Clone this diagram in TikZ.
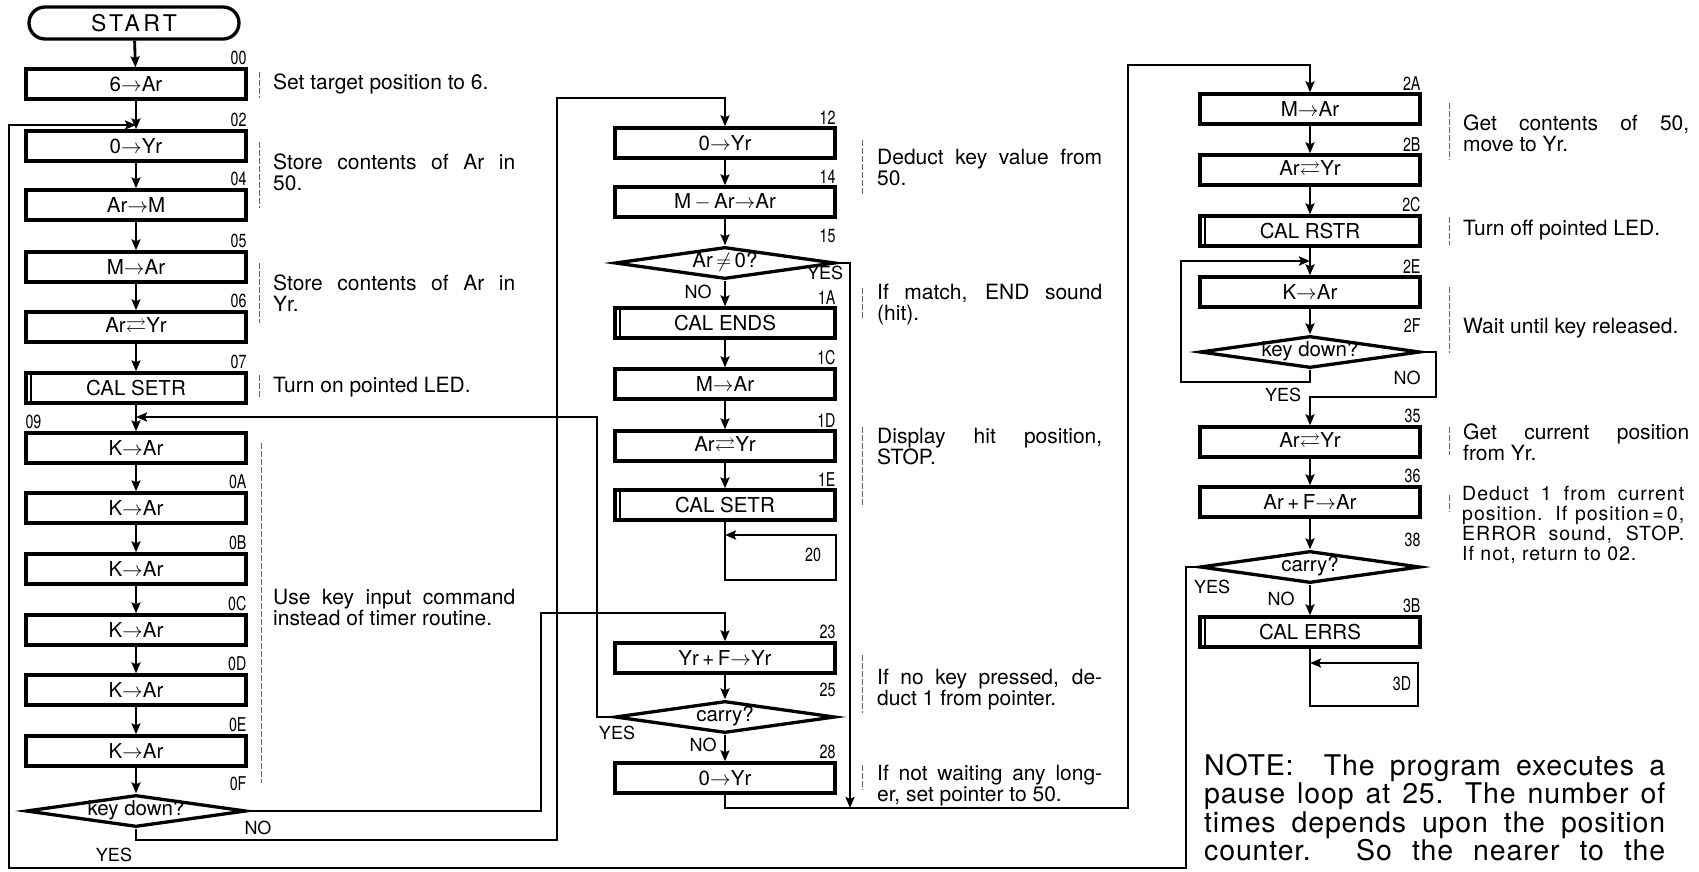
\documentclass[tikz,border=0pt]{standalone}
\usepackage{fontspec}
\usepackage{amssymb}
\setmainfont{TeX Gyre Heros}
\newfontfamily\addrfont{TeX Gyre Heros}[FakeStretch=0.75]
\usetikzlibrary{arrows.meta,shapes.geometric}

\begin{document}
\begin{tikzpicture}[x=1pt, y=-1pt,
    box/.style={draw, line width=3.3pt, minimum width=220pt, minimum height=30pt,
                inner sep=0pt, font=\fontsize{20.5}{20.5}\selectfont},
    cond/.style={draw, diamond, line width=3.3pt, aspect=6.9, minimum width=220pt,
                 minimum height=32pt, inner sep=0pt, text height=12pt, text depth=3pt,
                 font=\fontsize{20.5}{20.5}\selectfont},
    term/.style={draw, line width=3.3pt, rounded corners=16pt, minimum width=210pt,
                 minimum height=32pt, font=\fontsize{23}{23}\selectfont\addfontfeature{LetterSpace=15}},
    arr/.style={-{Stealth[length=11pt, width=9pt, inset=2pt]}, line width=2.8pt},
    addr/.style={inner sep=1pt, font=\addrfont\fontsize{19}{19}\selectfont},
    yn/.style={inner sep=0pt, font=\fontsize{18}{18}\selectfont},
    cmt/.style={anchor=west, inner sep=0pt, align=justify, text width=#1,
                font=\fontsize{21}{21}\selectfont},
    brk/.style={draw=black!60, line width=0.8pt, dash pattern=on 6pt off 2pt},
  ]
    \path[use as bounding box, fill=white] (0,0) rectangle (1699,872);

    % Left column
    \node[term] (start) at (134,23)  {START};
    \node[box]  (b00)   at (136,84)  {6$\to$Ar};
    \node[box]  (b02)   at (136,146) {0$\to$Yr};
    \node[box]  (b04)   at (136,205) {Ar$\to$M};
    \node[box]  (b05)   at (136,267) {M$\to$Ar};
    \node[box]  (b06)   at (136,327) {Ar$\rightleftarrows$Yr};
    \node[box]  (b07)   at (136,388) {CAL SETR};
    \node[box]  (b09)   at (136,448) {K$\to$Ar};
    \node[box]  (b0A)   at (136,508) {K$\to$Ar};
    \node[box]  (b0B)   at (136,569) {K$\to$Ar};
    \node[box]  (b0C)   at (136,630) {K$\to$Ar};
    \node[box]  (b0D)   at (136,690) {K$\to$Ar};
    \node[box]  (b0E)   at (136,751) {K$\to$Ar};
    \node[cond] (d0F)   at (136,811) {key down?};
    \coordinate (m02) at (136,125);
    \coordinate (m09) at (136,417);

    % Middle column
    \node[box]  (b12) at (725,143) {0$\to$Yr};
    \node[box]  (b14) at (725,202) {M\,$-$\,Ar$\to$Ar};
    \node[cond] (d15) at (725,263) {Ar\,$\neq$\,0?};
    \node[box]  (b1A) at (725,323) {CAL ENDS};
    \node[box]  (b1C) at (725,384) {M$\to$Ar};
    \node[box]  (b1D) at (725,446) {Ar$\rightleftarrows$Yr};
    \node[box]  (b1E) at (725,505) {CAL SETR};
    \node[box]  (b23) at (725,658) {Yr\,+\,F$\to$Yr};
    \node[cond] (d25) at (725,717) {carry?};
    \node[box]  (b28) at (725,778) {0$\to$Yr};
    \coordinate (j20) at (725,535);
    \coordinate (j28) at (850,808);

    % Right column
    \node[box]  (b2A) at (1310,109) {M$\to$Ar};
    \node[box]  (b2B) at (1310,170) {Ar$\rightleftarrows$Yr};
    \node[box]  (b2C) at (1310,231) {CAL RSTR};
    \node[box]  (b2E) at (1310,292) {K$\to$Ar};
    \node[cond] (d2F) at (1310,352) {key down?};
    \node[box]  (b35) at (1310,442) {Ar$\rightleftarrows$Yr};
    \node[box]  (b36) at (1310,502) {Ar\,+\,F$\to$Ar};
    \node[cond] (d38) at (1310,567) {carry?};
    \node[box]  (b3B) at (1310,632) {CAL ERRS};
    \coordinate (m2E) at (1310,261);
    \coordinate (j3D) at (1310,663);

    % subroutine marks
    \foreach \n in {b07,b1A,b1E,b2C,b3B}
      \draw[line width=1.8pt] ([xshift=7pt]\n.north west) -- ([xshift=7pt]\n.south west);

    % addresses
    \foreach \n/\t in {b00/00, b02/02, b04/04, b05/05, b06/06, b07/07, b0A/0A, b0B/0B,
                       b0C/0C, b0D/0D, b0E/0E, d0F/0F, b12/12, b14/14, d15/15, b1A/1A,
                       b1C/1C, b1D/1D, b1E/1E, b23/23, d25/25, b28/28, b2A/2A, b2B/2B,
                       b2C/2C, b2E/2E, d2F/2F, b35/35, b36/36, d38/38, b3B/3B}
      \node[addr, anchor=south east] (a\t) at ([yshift=1pt]\n.north -| \n.east) {\t};
    \node[addr, anchor=south west] (a09) at ([yshift=1pt]b09.north west) {09};
    \node[addr] (a20) at (813,555) {20};
    \node[addr] (a3D) at (1402,684) {3D};

    % straight flow
    \draw[arr] (start) -- (b00);
    \draw[arr] (b00) -- (b02);
    \foreach \a/\b in {b02/b04, b04/b05, b05/b06, b06/b07, b07/b09, b09/b0A, b0A/b0B,
                       b0B/b0C, b0C/b0D, b0D/b0E, b0E/d0F, b12/b14, b14/d15, d15/b1A,
                       b1A/b1C, b1C/b1D, b1D/b1E, b23/d25, d25/b28, b2A/b2B, b2B/b2C,
                       b2C/b2E, b2E/d2F, b35/b36, b36/d38, d38/b3B}
      \draw[arr] (\a) -- (\b);

    % loops and jumps
    \draw[arr] (d38.west) -| (1186,868) -| (9,125) -- (m02);
    \draw[arr] (d25.west) -| (597,417) -- (m09);
    \draw[arr] (d0F.east) -| (541,613) -| (b23.north);
    \draw[arr] (d0F.south) |- (557,840) |- (725,98) -- (b12.north);
    \draw[arr] (d15.east) -| (j28);
    \draw[arr] (b28.south) |- (1128,808) |- (1310,65) -- (b2A.north);
    \draw[arr] (d2F.south) |- (1181,382) |- (m2E);
    \draw[arr] (d2F.east) -| (1436,397) -| (b35.north);
    \draw[arr] (b1E.south) -- (725,580) -| (836,535) -- (j20);
    \draw[arr] (b3B.south) -- (1310,706) -| (1418,663) -- (j3D);

    % branch labels
    \node[yn] (n0F) at (258,828)  {NO};
    \node[yn] (y0F) at (114,855)  {YES};
    \node[yn] (y15) at (825,273)  {YES};
    \node[yn] (n15) at (698,292)  {NO};
    \node[yn] (y25) at (617,733)  {YES};
    \node[yn] (n25) at (703,745)  {NO};
    \node[yn] (n2F) at (1407,378) {NO};
    \node[yn] (y2F) at (1283,395) {YES};
    \node[yn] (y38) at (1212,587) {YES};
    \node[yn] (n38) at (1281,599) {NO};

    % comments, left
    \draw[brk] (259,72) -- (259,98);
    \draw[brk] (259,142) -- (259,208);
    \draw[brk] (259,263) -- (259,323);
    \draw[brk] (259,375) -- (259,398);
    \draw[brk] (261,443) -- (261,783);
    \node[cmt=242pt] (t00) at (273,84)  {Set target position to 6.};
    \node[cmt=242pt] (t02) at (273,172) {Store contents of Ar in\linebreak 50.};
    \node[cmt=242pt] (t05) at (273,293) {Store contents of Ar in\linebreak Yr.};
    \node[cmt=242pt] (t07) at (273,387) {Turn on pointed LED.};
    \node[cmt=242pt] (t09) at (273,607) {Use key input command\linebreak instead of timer routine.};

    % comments, middle
    \draw[brk] (862,140) -- (862,195);
    \draw[brk] (862,288) -- (862,320);
    \draw[brk] (862,427) -- (862,507);
    \draw[brk] (862,655) -- (862,713);
    \draw[brk] (862,765) -- (862,790);
    \node[cmt=225pt] (t12) at (877,167) {Deduct key value from\linebreak 50.};
    \node[cmt=225pt] (t15) at (877,305) {If match, END sound\linebreak (hit).};
    \node[cmt=225pt] (t1C) at (877,447) {Display hit position,\linebreak STOP.};
    \node[cmt=225pt] (t23) at (877,690) {If no key pressed, de-\linebreak duct 1 from pointer.};
    \node[cmt=225pt] (t28) at (877,786) {If not waiting any long-\linebreak er, set pointer to 50.};

    % comments, right
    \draw[brk] (1449,103) -- (1449,160);
    \draw[brk] (1449,217) -- (1449,245);
    \draw[brk] (1449,287) -- (1449,353);
    \draw[brk] (1449,427) -- (1449,455);
    \draw[brk] (1449,495) -- (1449,512);
    \node[cmt=226pt] (t2A) at (1463,133) {Get contents of 50,\linebreak move to Yr.};
    \node[cmt=226pt] (t2C) at (1463,230) {Turn off pointed LED.};
    \node[cmt=226pt] (t2E) at (1463,328) {Wait until key released.};
    \node[cmt=226pt] (t35) at (1463,442) {Get current position\linebreak from Yr.};
    \node[cmt=222pt, font=\fontsize{19.5}{20}\selectfont\addfontfeature{LetterSpace=5}] (t36) at (1462,525)
      {Deduct 1 from current\linebreak position. If position\,=\,0,\linebreak
       ERROR sound, STOP.\linebreak If not, return to 02.};

    % note
    \node[cmt=461pt, anchor=north west,
          font=\fontsize{28.5}{28.5}\selectfont\addfontfeature{LetterSpace=3}] (note) at (1204,754)
      {NOTE:\ \ The program executes a\linebreak
       pause loop at 25. The number of\linebreak
       times depends upon the position\linebreak
       counter. So the nearer to the\linebreak};
  \end{tikzpicture}
\end{document}
